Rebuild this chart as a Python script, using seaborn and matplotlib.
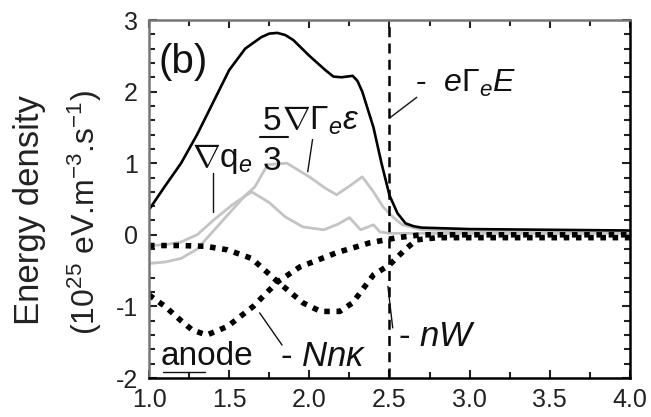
import matplotlib
matplotlib.use("Agg")
import matplotlib.pyplot as plt
import seaborn as sns
import pandas as pd
from matplotlib.ticker import MultipleLocator

# ---- data ----
eGE_x = [1.0, 1.1, 1.2, 1.3, 1.4, 1.5, 1.6, 1.7, 1.75, 1.8, 1.85, 1.9, 2.0, 2.1, 2.15, 2.2, 2.27,
         2.3, 2.33, 2.4, 2.45, 2.5, 2.55, 2.6, 2.65, 2.7, 3.0, 3.5, 4.0]
eGE_y = [0.35, 0.68, 1.0, 1.4, 1.85, 2.3, 2.6, 2.76, 2.81, 2.82, 2.79, 2.72, 2.5, 2.3, 2.21, 2.2, 2.22,
         2.15, 2.0, 1.5, 1.0, 0.55, 0.3, 0.16, 0.12, 0.1, 0.08, 0.07, 0.06]

gradG_x = [1.0, 1.1, 1.2, 1.3, 1.4, 1.5, 1.6, 1.66, 1.74, 1.86, 2.0, 2.1, 2.17, 2.25, 2.33,
           2.4, 2.46, 2.52, 2.58, 2.7, 3.0, 4.0]
gradG_y = [-0.4, -0.38, -0.33, -0.2, 0.05, 0.3, 0.55, 0.67, 0.98, 1.0, 0.81, 0.65, 0.56, 0.68, 0.81,
           0.6, 0.39, 0.25, 0.14, 0.07, 0.05, 0.04]

gradq_x = [1.0, 1.1, 1.2, 1.3, 1.4, 1.52, 1.64, 1.75, 1.85, 1.96, 2.09, 2.18, 2.25, 2.32, 2.4,
           2.44, 2.5, 2.6, 3.0, 4.0]
gradq_y = [-0.15, -0.14, -0.1, 0.0, 0.2, 0.42, 0.6, 0.45, 0.25, 0.11, 0.07, 0.15, 0.24, 0.07, 0.14,
           0.04, 0.02, 0.02, 0.02, 0.02]

nW_x = [1.0, 1.2, 1.35, 1.49, 1.64, 1.8, 1.96, 2.07, 2.19, 2.27, 2.4, 2.5, 2.6, 2.67, 2.8, 3.0, 4.0]
nW_y = [-0.15, -0.15, -0.16, -0.21, -0.33, -0.65, -0.95, -1.07, -1.07, -0.95, -0.56, -0.42, -0.2,
        -0.07, -0.04, -0.04, -0.04]

Nnk_x = [1.0, 1.1, 1.2, 1.27, 1.36, 1.49, 1.65, 1.8, 1.94, 2.17, 2.38, 2.55, 2.7, 3.0, 4.0]
Nnk_y = [-0.84, -1.0, -1.2, -1.33, -1.4, -1.28, -1.0, -0.66, -0.45, -0.25, -0.11, -0.04, 0.0, 0.0, 0.0]

x_ticks = [1.0, 1.5, 2.0, 2.5, 3.0, 3.5, 4.0]
x_ticklabels = ["1.0", "1.5", "2.0", "2.5", "3.0", "3.5", "4.0"]
y_ticks = [-2, -1, 0, 1, 2, 3]
y_ticklabels = ["-2", "-1", "0", "1", "2", "3"]
boundary_x = 2.5

sns.set_style("ticks")
plt.rcParams["font.family"] = ["Liberation Sans", "DejaVu Sans"]
plt.rcParams["mathtext.fontset"] = "custom"
plt.rcParams["mathtext.rm"] = "Liberation Sans"
plt.rcParams["mathtext.it"] = "Liberation Sans:italic"
plt.rcParams["mathtext.bf"] = "Liberation Sans:bold"
plt.rcParams["axes.unicode_minus"] = False

fig = plt.figure(figsize=(6.51, 4.17), dpi=100)
ax = fig.add_axes([149/651, 1-378/417, (630-149)/651, (378-20)/417])

def df(x, y):
    return pd.DataFrame({"x": x, "y": y})

gray = "#c4c4c4"
sns.lineplot(data=df(gradq_x, gradq_y), x="x", y="y", ax=ax, color=gray, lw=2.0, sort=False)
sns.lineplot(data=df(gradG_x, gradG_y), x="x", y="y", ax=ax, color=gray, lw=2.0, sort=False)
sns.lineplot(data=df(nW_x, nW_y), x="x", y="y", ax=ax, color="black", lw=4.0, sort=False,
             linestyle=(0, (1, 1.2)))
sns.lineplot(data=df(Nnk_x, Nnk_y), x="x", y="y", ax=ax, color="black", lw=4.0, sort=False,
             linestyle=(0, (1, 1.2)))
sns.lineplot(data=df(eGE_x, eGE_y), x="x", y="y", ax=ax, color="black", lw=1.9, sort=False)
ax.axvline(boundary_x, color="black", lw=1.8, linestyle=(0, (4, 2.5)))

ax.set_xlim(1.0, 4.0)
ax.set_ylim(-2, 3)
ax.set_xticks(x_ticks)
ax.set_xticklabels(x_ticklabels)
ax.set_yticks(y_ticks)
ax.set_yticklabels(y_ticklabels)
ax.xaxis.set_minor_locator(MultipleLocator(0.25))
ax.yaxis.set_minor_locator(MultipleLocator(0.2))
ax.tick_params(which="both", direction="in", top=True, right=True, labelsize=18,
               colors="#222222")
ax.tick_params(axis="x", pad=7)
ax.tick_params(axis="y", pad=8)
ax.tick_params(which="major", length=6, width=1.5)
ax.tick_params(which="minor", length=4, width=1.5)
ax.set_xlabel("")
ax.set_ylabel("")
for s in ["left", "top"]:
    ax.spines[s].set_color("#777777")
for s in ["bottom", "right"]:
    ax.spines[s].set_color("black")
for s in ax.spines.values():
    s.set_linewidth(1.8)

# y label (two lines)
fig.text(30/651, 1-210/417, "Energy density", rotation=90, ha="center", va="center",
         fontsize=25, color="#222222")
fig.text(85/651, 1-213/417, r"(10$^{25}$ eV.m$^{-3}$.s$^{-1}$)", rotation=90, ha="center",
         va="center", fontsize=23, color="#222222")

# annotations
tc = "#111111"
ax.text(1.21, 2.42, "(b)", fontsize=29, ha="center", va="center", color=tc)
ax.text(2.66, 2.0, r"-  $e\Gamma_e E$", fontsize=23, ha="left", va="baseline", color=tc)
ax.plot([2.67, 2.50], [1.92, 1.63], color=tc, lw=1)
ax.text(1.27, 0.94, r"$\nabla$q$_e$", fontsize=24, ha="left", va="baseline", color=tc)
ax.plot([1.40, 1.40], [0.86, 0.32], color=tc, lw=1)
ax.text(1.765, 1.47, "5", fontsize=24, ha="center", va="baseline", color=tc)
ax.plot([1.69, 1.87], [1.37, 1.37], color=tc, lw=1.5)
ax.text(1.765, 0.90, "3", fontsize=24, ha="center", va="baseline", color=tc)
ax.text(1.83, 1.47, r"$\nabla\Gamma_e\varepsilon$", fontsize=24, ha="left", va="baseline", color=tc)
ax.plot([2.02, 1.99], [1.33, 0.88], color=tc, lw=1)
ax.text(1.07, -1.82, "anode", fontsize=24, ha="left", va="baseline", color=tc)
ax.plot([1.09, 1.35], [-1.92, -1.92], color=tc, lw=1)
ax.text(1.82, -1.83, r"- $Nn\kappa$", fontsize=25, ha="left", va="baseline", color=tc)
ax.plot([1.83, 1.69], [-1.54, -1.09], color=tc, lw=1)
ax.text(2.55, -1.56, r"- $nW$", fontsize=25, ha="left", va="baseline", color=tc)
ax.plot([2.49, 2.52], [-0.72, -1.3], color=tc, lw=1)

fig.savefig("out.png", dpi=100)
